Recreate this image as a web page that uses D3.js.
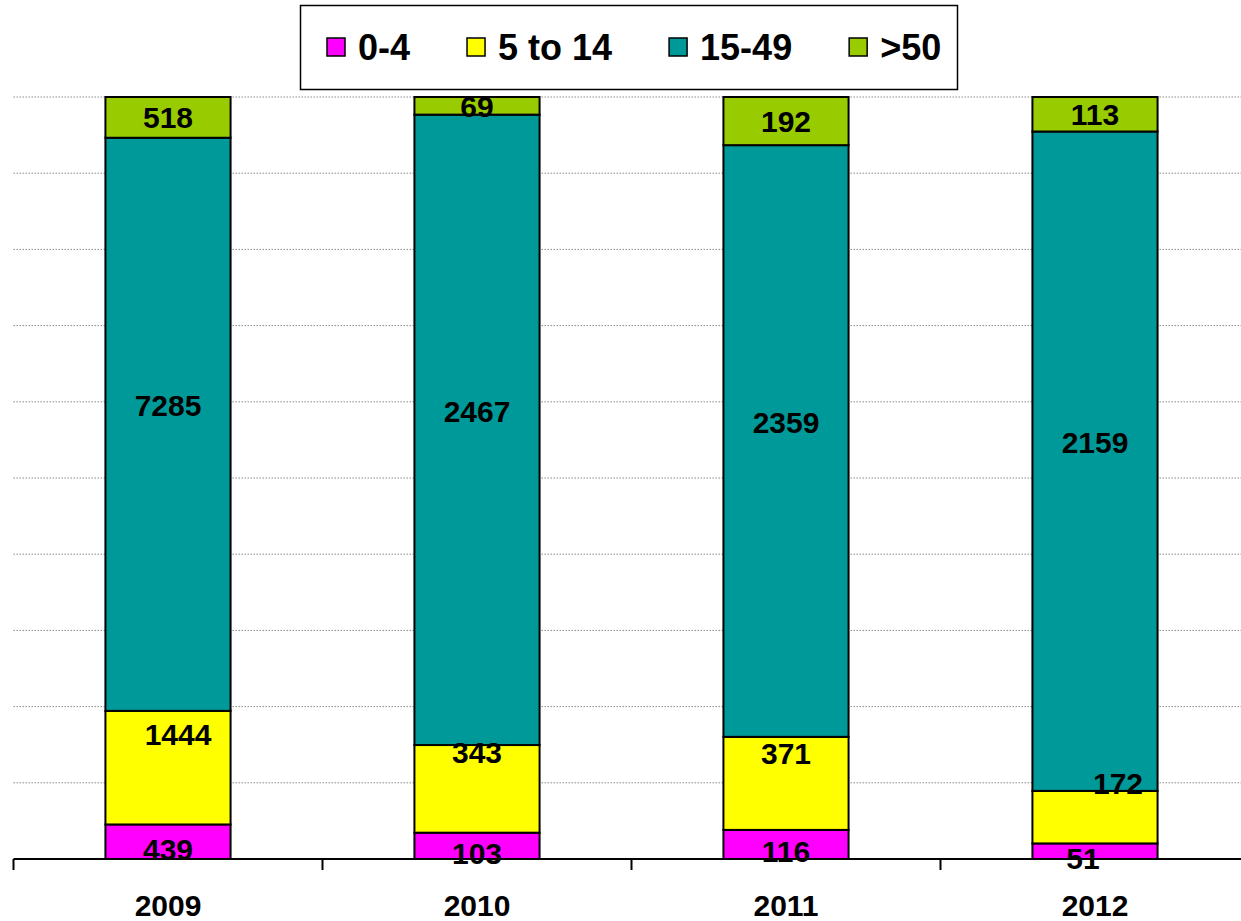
<!DOCTYPE html>
<html>
<head>
<meta charset="utf-8">
<script src="https://cdn.jsdelivr.net/npm/d3@7"></script>
<style>
  body { margin: 0; background: #fff; }
  svg text { font-family: "Liberation Sans", Arial, sans-serif; font-weight: bold; fill: #000; }
</style>
</head>
<body>
<svg id="chart" width="1241" height="921"></svg>
<script>
// ---- data ----
const years = ["2009", "2010", "2011", "2012"];
const groups = ["0-4", "5 to 14", "15-49", ">50"];
const age0to4 = [439, 103, 116, 51];
const age5to14 = [1444, 343, 371, 172];
const age15to49 = [7285, 2467, 2359, 2159];
const age50plus = [518, 69, 192, 113];
const gridTicks = [0, 0.1, 0.2, 0.3, 0.4, 0.5, 0.6, 0.7, 0.8, 0.9, 1];

const colors = ["#ff00ff", "#ffff00", "#009999", "#99cc00"];
// label nudges (px) per series, plus a few one-off shifts like the original
const labelDy = [7, -34, -19, 0];
const labelDx = { "2009|1": 10, "2012|1": 23, "2012|0": -12 };
const labelDyExtra = { "2010|1": -3, "2011|1": 4 };

const svg = d3.select("#chart");
const margin = { top: 97, bottom: 62, left: 13.5 };
const height = 921;

// build rows for the stack
const series = [age0to4, age5to14, age15to49, age50plus];
const rows = years.map((y, i) => {
    let r = { year: y };
    groups.forEach((g, j) => r[g] = series[j][i]);
    return r;
});

const stack = d3.stack().keys(groups).offset(d3.stackOffsetExpand);
const stacked = stack(rows);

const x = d3.scaleBand()
    .domain(years)
    .range([margin.left, margin.left + 4 * 309])
    .padding(0);
const barW = x.bandwidth() * 0.405;

const y = d3.scaleLinear()
    .domain([0, 1])
    .range([height - margin.bottom, margin.top]);

// gridlines
svg.append("g")
    .selectAll("line")
    .data(gridTicks.slice(1))
    .join("line")
    .attr("x1", margin.left)
    .attr("x2", 1241)
    .attr("y1", d => y(d))
    .attr("y2", d => y(d))
    .attr("stroke", "#8a8a8a")
    .attr("stroke-width", 1)
    .attr("stroke-dasharray", "1.5,1.5");

// bars
const layers = svg.append("g")
    .selectAll("g")
    .data(stacked)
    .join("g")
    .attr("fill", (d, i) => colors[i]);

layers.selectAll("rect")
    .data(d => d)
    .join("rect")
    .attr("x", d => x(d.data.year) + (x.bandwidth() - barW) / 2)
    .attr("y", d => y(d[1]))
    .attr("width", barW)
    .attr("height", d => y(d[0]) - y(d[1]))
    .attr("stroke", "#000")
    .attr("stroke-width", 2);

// x axis
const xAxis = d3.axisBottom(x).tickSize(0).tickFormat("");
const axisG = svg.append("g")
    .attr("transform", `translate(0,${y(0)})`)
    .call(xAxis);
axisG.select(".domain").attr("stroke", "#000").attr("stroke-width", 2)
    .attr("d", `M${margin.left},0H1241`);
axisG.selectAll(".bound")
    .data(years)
    .join("line")
    .attr("x1", d => x(d))
    .attr("x2", d => x(d))
    .attr("y1", 0)
    .attr("y2", 11)
    .attr("stroke", "#000")
    .attr("stroke-width", 2);
axisG.selectAll(".yr")
    .data(years)
    .join("text")
    .attr("x", d => x(d) + x.bandwidth() / 2)
    .attr("y", 57)
    .attr("text-anchor", "middle")
    .style("font-size", "30px")
    .text(d => d);

// value labels
stacked.forEach((layer, j) => {
    svg.append("g")
        .selectAll("text")
        .data(layer)
        .join("text")
        .attr("x", d => x(d.data.year) + x.bandwidth() / 2 + (labelDx[d.data.year + "|" + j] || 0))
        .attr("y", d => (y(d[0]) + y(d[1])) / 2 + labelDy[j] + (labelDyExtra[d.data.year + "|" + j] || 0) + 11)
        .attr("text-anchor", "middle")
        .style("font-size", "30px")
        .text(d => d.data[groups[j]]);
});

// legend
const legend = svg.append("g");
legend.append("rect")
    .attr("x", 300.5).attr("y", 5.5)
    .attr("width", 657).attr("height", 84)
    .attr("fill", "#fff").attr("stroke", "#000").attr("stroke-width", 1.5);

let lx = 327;
groups.forEach((g, i) => {
    legend.append("rect")
        .attr("x", lx).attr("y", 38)
        .attr("width", 18).attr("height", 18)
        .attr("fill", colors[i]).attr("stroke", "#000").attr("stroke-width", 1.5);
    const t = legend.append("text")
        .attr("x", lx + 31).attr("y", 60)
        .style("font-size", "36px")
        .text(g);
    lx += 31 + t.node().getComputedTextLength() + 57;
});
</script>
</body>
</html>
